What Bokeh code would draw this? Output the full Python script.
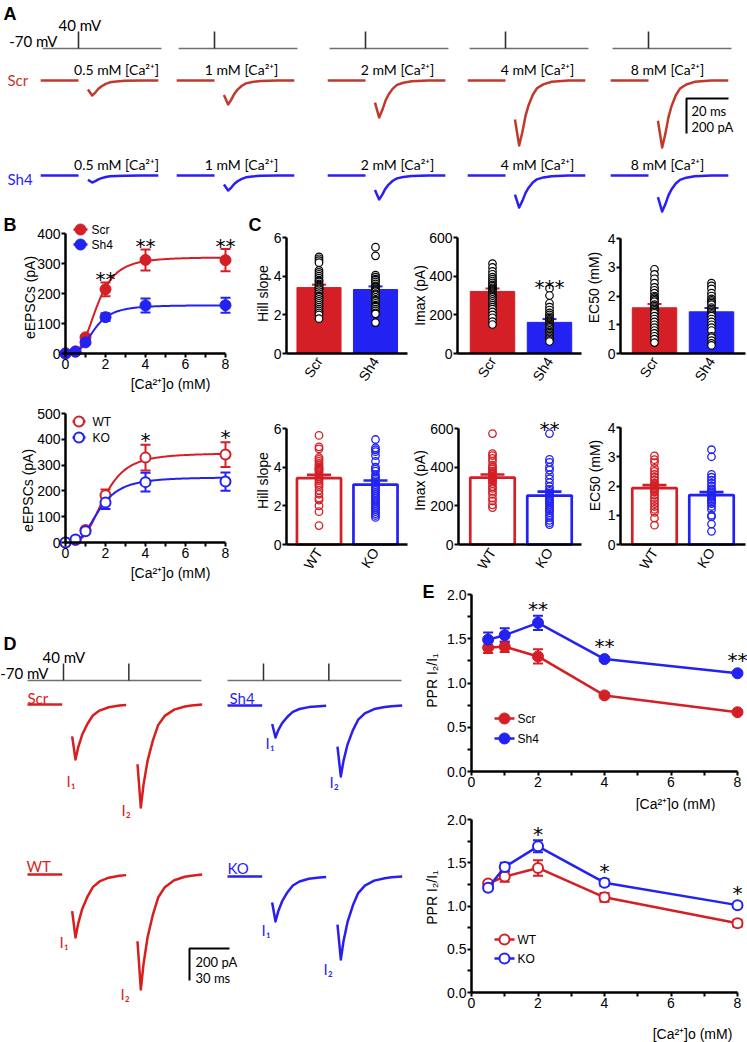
import math
import numpy as np
from bokeh.plotting import figure
from bokeh.layouts import row, column
from bokeh.models import (Range1d, Whisker, TeeHead, ColumnDataSource, Label,
                          FixedTicker, NumeralTickFormatter)
from bokeh.embed import file_html
from bokeh.resources import INLINE

# ======================= DATA =======================
# Panel A : example eEPSCs at each [Ca2+]o
A_CONC_LABELS = ["0.5 mM [Ca²⁺]", "1 mM [Ca²⁺]", "2 mM [Ca²⁺]", "4 mM [Ca²⁺]", "8 mM [Ca²⁺]"]
A_SCR_AMP = [86, 137, 211, 371, 383]          # pA
A_SH4_AMP = [40, 86, 137, 183, 206]           # pA
A_T = [4.5, 6.5, 8.0, 9.5, 11.0, 13.0, 15.0, 18.0, 22.0, 30.0, 38.0]   # ms after stimulus
A_SHAPE = [0.6, 1.0, 0.8, 0.55, 0.38, 0.22, 0.12, 0.06, 0.02, 0.0, 0.0]

# Panel B : dose response
CONC = [0, 0.5, 1, 2, 4, 8]
SCR_EPSC = [0, 7, 54, 214, 312, 311]
SCR_EPSC_SEM = [0, 3, 6, 23, 35, 37]
SH4_EPSC = [0, 6, 37, 121, 160, 161]
SH4_EPSC_SEM = [0, 2, 5, 13, 23, 25]
WT_EPSC = [0, 10, 48, 183, 329, 341]
WT_EPSC_SEM = [0, 3, 6, 22, 50, 48]
KO_EPSC = [0, 12, 44, 155, 234, 236]
KO_EPSC_SEM = [0, 3, 6, 25, 36, 35]
B_TOP_STARS = [(2, "**"), (4, "**"), (8, "**")]
B_BOT_STARS = [(4, "*"), (8, "*")]

# Panel C : Hill fit parameters
GROUPS_TOP = ["Scr", "Sh4"]
GROUPS_BOT = ["WT", "KO"]
HILL_TOP = [3.41, 3.31]
HILL_TOP_SEM = [0.15, 0.16]
IMAX_TOP = [321, 161]
IMAX_TOP_SEM = [15, 17]
EC50_TOP = [1.59, 1.45]
EC50_TOP_SEM = [0.13, 0.13]
HILL_BOT = [3.43, 3.10]
HILL_BOT_SEM = [0.17, 0.21]
IMAX_BOT = [346, 253]
IMAX_BOT_SEM = [16, 21]
EC50_BOT = [1.93, 1.69]
EC50_BOT_SEM = [0.10, 0.10]

HILL_TOP_PTS = [
    [5.0, 4.9, 4.8, 4.7, 4.3, 4.2, 4.1, 4.0, 3.9, 3.8, 3.75, 3.7, 3.6, 3.55, 3.5, 3.45, 3.4,
     3.35, 3.3, 3.2, 3.1, 3.0, 2.95, 2.9, 2.8, 2.7, 2.6, 2.5, 2.4, 2.3, 2.2, 2.1, 2.0, 1.8],
    [5.5, 5.05, 4.05, 3.95, 3.85, 3.8, 3.7, 3.6, 3.5, 3.45, 3.4, 3.35, 3.3, 3.25, 3.2, 3.1,
     3.05, 3.0, 2.9, 2.8, 2.75, 2.7, 2.6, 2.5, 2.45, 2.4, 2.3, 2.2, 2.1, 2.05, 1.6]]
IMAX_TOP_PTS = [
    [465, 445, 425, 410, 395, 385, 375, 365, 355, 348, 340, 335, 330, 325, 320, 315, 310,
     305, 300, 295, 290, 280, 270, 260, 250, 240, 230, 215, 200, 185, 165, 150],
    [336, 300, 260, 240, 225, 210, 200, 190, 183, 176, 170, 165, 160, 155, 150, 145, 140,
     135, 128, 120, 112, 105, 98, 90, 82, 75, 68, 62]]
EC50_TOP_PTS = [
    [2.93, 2.75, 2.6, 2.45, 2.3, 2.2, 2.1, 2.0, 1.95, 1.9, 1.85, 1.8, 1.7, 1.65, 1.6, 1.55,
     1.5, 1.45, 1.4, 1.3, 1.2, 1.1, 1.0, 0.9, 0.8, 0.7, 0.6, 0.5, 0.38],
    [2.45, 2.35, 2.25, 2.1, 2.0, 1.9, 1.85, 1.8, 1.75, 1.7, 1.6, 1.55, 1.5, 1.45, 1.4, 1.35,
     1.3, 1.2, 1.1, 1.0, 0.9, 0.8, 0.6, 0.55, 0.45, 0.35, 0.28]]
HILL_BOT_PTS = [
    [5.64, 5.05, 4.95, 4.5, 4.4, 4.3, 4.2, 4.1, 4.0, 3.95, 3.9, 3.85, 3.8, 3.7, 3.6, 3.5,
     3.4, 3.3, 3.2, 3.1, 3.0, 2.8, 2.6, 2.4, 2.3, 2.0, 1.7, 0.98],
    [5.43, 5.0, 4.9, 4.8, 4.6, 4.3, 4.0, 3.9, 3.8, 3.6, 3.5, 3.4, 3.3, 3.2, 3.1, 3.0, 2.9,
     2.8, 2.7, 2.6, 2.5, 2.4, 2.3, 2.2, 2.1, 2.0, 1.9, 1.8, 1.7, 1.6, 1.5, 1.4]]
IMAX_BOT_PTS = [
    [574, 470, 460, 445, 430, 410, 400, 390, 380, 370, 362, 355, 350, 345, 340, 335, 325,
     315, 300, 290, 275, 260, 240, 225, 205, 191],
    [574, 440, 425, 400, 385, 360, 340, 320, 300, 285, 275, 265, 255, 245, 235, 225, 215,
     205, 195, 185, 175, 165, 150, 140, 125, 113, 103]]
EC50_BOT_PTS = [
    [3.03, 2.9, 2.8, 2.6, 2.5, 2.4, 2.3, 2.2, 2.1, 2.05, 2.0, 1.95, 1.9, 1.85, 1.8, 1.7,
     1.6, 1.5, 1.4, 1.3, 1.2, 1.1, 0.9, 0.66],
    [3.24, 3.0, 2.4, 2.3, 2.2, 2.1, 2.0, 1.9, 1.85, 1.8, 1.75, 1.7, 1.65, 1.6, 1.55, 1.5,
     1.45, 1.4, 1.3, 1.2, 1.0, 0.95, 0.7, 0.45]]

# Panel D : paired-pulse traces
D_NAMES = ["Scr", "Sh4", "WT", "KO"]
D_I1 = [344, 200, 394, 281]     # pA
D_I2 = [644, 444, 719, 519]     # pA
D_T = [6.5, 9.0, 11.0, 14.0, 18.0, 22.0, 27.0, 34.0, 42.0, 47.0, 55.0]
D_SHAPE = [0.58, 1.0, 0.78, 0.55, 0.35, 0.2, 0.11, 0.05, 0.02, 0.01, 0.0]
D_ISI = 49      # ms

# Panel E : paired-pulse ratio
PPR_CONC = [0.5, 1, 2, 4, 8]
SCR_PPR = [1.40, 1.41, 1.30, 0.86, 0.67]
SCR_PPR_SEM = [0.06, 0.06, 0.08, 0.02, 0.02]
SH4_PPR = [1.49, 1.54, 1.68, 1.27, 1.11]
SH4_PPR_SEM = [0.08, 0.08, 0.08, 0.02, 0.02]
WT_PPR = [1.26, 1.34, 1.44, 1.10, 0.80]
WT_PPR_SEM = [0.03, 0.06, 0.09, 0.05, 0.04]
KO_PPR = [1.21, 1.45, 1.69, 1.27, 1.01]
KO_PPR_SEM = [0.03, 0.05, 0.07, 0.04, 0.02]
E_TOP_STARS = [(2, "**"), (4, "**"), (8, "**")]
E_BOT_STARS = [(2, "*"), (4, "*"), (8, "*")]

# ======================= STYLE =======================
RED = "#d41f26"
BLUE = "#2222f2"
A_RED = "#c0392b"
A_BLUE = "#2a1ef5"
D_RED = "#d81e1e"
D_BLUE = "#2b1ef0"
GRAY = "#707070"
AXF = "Liberation Sans"
TXF = "Lato"
STARF = "DejaVu Sans"


class Conv:
    """page pixel <-> data units of one figure"""
    def __init__(self, x0px, sx, y0px, sy):
        self.x0px, self.sx, self.y0px, self.sy = x0px, sx, y0px, sy

    def x(self, rx):
        return (rx - self.x0px) / self.sx

    def y(self, ry):
        return (self.y0px - ry) / self.sy

    def ry(self, y):
        return self.y0px - y * self.sy


def mkfig(rect, xmap, ymap, axes=None):
    fx, fy, fw, fh = rect
    c = Conv(xmap[0], xmap[1], ymap[0], ymap[1])
    kw = dict(width=fw, height=fh,
              x_range=Range1d(c.x(fx), c.x(fx + fw)),
              y_range=Range1d(c.y(fy + fh), c.y(fy)),
              output_backend="svg", toolbar_location=None, min_border=0)
    if axes is None:
        kw.update(x_axis_location=None, y_axis_location=None)
    p = figure(**kw)
    p.grid.visible = False
    p.outline_line_color = None
    p.background_fill_color = "white"
    p.border_fill_color = "white"
    if axes is not None:
        xat, yat, xb, yb = axes
        p.xaxis.fixed_location = xat
        p.yaxis.fixed_location = yat
        p.xaxis.bounds = xb
        p.yaxis.bounds = yb
        for a in p.axis:
            a.axis_line_width = 2.5
            a.axis_line_color = "black"
            a.major_tick_line_width = 2
            a.minor_tick_line_width = 2
            a.major_tick_in = 0
            a.major_tick_out = 4
            a.minor_tick_in = 0
            a.minor_tick_out = 4
            a.major_label_text_font = AXF
            a.major_label_text_font_size = "14px"
            a.major_label_standoff = 1
            a.major_label_text_color = "black"
    return p, c


def lab(p, x, y, text, size="14px", font=AXF, color="black", align="center",
        baseline="middle", angle=0.0, style="normal"):
    p.add_layout(Label(x=x, y=y, text=text, text_font=font, text_font_size=size,
                       text_color=color, text_align=align, text_baseline=baseline,
                       angle=angle, text_font_style=style))


def letter(p, c, rx, ry, text):
    lab(p, c.x(rx), c.y(ry), text, size="18px", align="left", style="bold")


def whisk(p, xs, means, sems, color, head=10, width=2, both=True):
    xs2, up, lo = [], [], []
    for x, m, s in zip(xs, means, sems):
        if s > 0:
            xs2.append(x)
            up.append(m + s)
            lo.append(m - s if both else m)
    src = ColumnDataSource(dict(x=xs2, upper=up, lower=lo))
    p.add_layout(Whisker(source=src, base="x", upper="upper", lower="lower",
                         line_color=color, line_width=width,
                         upper_head=TeeHead(size=head, line_color=color, line_width=width),
                         lower_head=TeeHead(size=head, line_color=color, line_width=width) if both else None))


def key_legend(p, c, entries, gx, tx, ys, filled, size="12px"):
    for (name, col), ry in zip(entries, ys):
        p.segment(x0=[c.x(gx[0])], y0=[c.y(ry)], x1=[c.x(gx[1])], y1=[c.y(ry)],
                  line_color=col, line_width=2.5)
        p.scatter([c.x((gx[0] + gx[1]) / 2)], [c.y(ry)], marker="circle", size=11 if filled else 10,
                  fill_color=col if filled else "white", line_color=col,
                  line_width=1 if filled else 2)
        lab(p, c.x(tx), c.y(ry), name, size=size, align="left")


def put_stars(p, c, stars, tops_px, gap, size="20px"):
    for x, txt in stars:
        center = tops_px[x] - gap
        lab(p, x, c.y(center + 5), txt, size=size, font=STARF)


def hill(x, imax, ec50, n):
    x = np.asarray(x, dtype=float)
    return imax * x ** n / (x ** n + ec50 ** n)


# ======================= PANEL A =======================
figA, ca = mkfig((0, 0, 747, 213), (0, 2.1), (80, 0.175))
A_STIM_X = [78, 214, 365, 505, 648]
A_LABEL_DX = [38, 27, 32, 32, 19]
scr_base, sh4_base = ca.y(80), ca.y(175)
v_base, v_top = ca.y(48), ca.y(31)
for i, sx in enumerate(A_STIM_X):
    t0 = ca.x(sx)
    figA.segment(x0=[t0 - 17.1], y0=[v_base], x1=[t0 + 39.5], y1=[v_base], line_color=GRAY, line_width=1.6)
    figA.segment(x0=[t0], y0=[v_base], x1=[t0], y1=[v_top], line_color="#303030", line_width=1.6)
    for amps, base, col, ly in [(A_SCR_AMP, scr_base, A_RED, 69), (A_SH4_AMP, sh4_base, A_BLUE, 164)]:
        figA.line([t0 - 18, t0], [base, base], line_color=col, line_width=2.5)
        figA.line([t0 + t for t in A_T], [base - amps[i] * s for s in A_SHAPE],
                  line_color=col, line_width=2.5, line_join="round")
        lab(figA, ca.x(sx + A_LABEL_DX[i]), ca.y(ly), A_CONC_LABELS[i], size="14px", font=TXF)
letter(figA, ca, 3, 13, "A")
lab(figA, ca.x(58), ca.y(24), "40 mV", size="15px", font=TXF, align="left")
lab(figA, ca.x(57), ca.y(40), "-70 mV", size="15px", font=TXF, align="right")
lab(figA, ca.x(7), ca.y(79), "Scr", size="15px", font=TXF, align="left", color=A_RED)
lab(figA, ca.x(7), ca.y(178), "Sh4", size="15px", font=TXF, align="left", color=A_BLUE)
sbx, sby = ca.x(686), ca.y(98)
figA.line([sbx + 20, sbx, sbx], [sby, sby, sby - 200], line_color="black", line_width=2)
lab(figA, ca.x(691), ca.y(110), "20 ms", size="13px", font=TXF, align="left")
lab(figA, ca.x(691), ca.y(126), "200 pA", size="13px", font=TXF, align="left")

# ======================= PANEL B =======================
fit_x = np.linspace(0, 8, 161)


def panel_b(rect, ymap, ybound, yticks, series, stars, gap, filled, leg, xt, yt):
    p, c = mkfig(rect, (65, 20), ymap, axes=(0, 0, (0, 8), (0, ybound)))
    p.xaxis.ticker = FixedTicker(ticks=[0, 2, 4, 6, 8], minor_ticks=[1, 3, 5, 7])
    p.yaxis.ticker = FixedTicker(ticks=yticks)
    tops = {}
    for name, m, s, fit, col in series:
        p.line(fit_x, hill(fit_x, *fit), line_color=col, line_width=2)
        whisk(p, CONC, m, s, col, head=10, width=2)
        p.scatter(CONC, m, marker="circle", size=11 if filled else 10,
                  fill_color=col if filled else "white", line_color=col,
                  line_width=1 if filled else 2)
        for cc, mm, ss in zip(CONC, m, s):
            t = min(c.ry(mm + ss), c.ry(mm) - 6)
            tops[cc] = min(tops.get(cc, 1e9), t)
    put_stars(p, c, stars, tops, gap)
    gx, tx, ys = leg
    key_legend(p, c, [(sr[0], sr[4]) for sr in series], gx, tx, ys, filled)
    lab(p, c.x(xt[0]), c.y(xt[1]), "[Ca²⁺]o (mM)")
    lab(p, c.x(yt[0]), c.y(yt[1]), "eEPSCs (pA)", angle=math.pi / 2)
    return p, c


b1, cb1 = panel_b((0, 213, 240, 182), (353, 0.3), 400, [0, 100, 200, 300, 400],
                  [("Scr", SCR_EPSC, SCR_EPSC_SEM, (IMAX_TOP[0], EC50_TOP[0], HILL_TOP[0]), RED),
                   ("Sh4", SH4_EPSC, SH4_EPSC_SEM, (IMAX_TOP[1], EC50_TOP[1], HILL_TOP[1]), BLUE)],
                  B_TOP_STARS, 8, True, ((73, 87), 91, (229, 244)), (170, 383), (29, 297))
letter(b1, cb1, 3, 224, "B")

b2, cb2 = panel_b((0, 395, 240, 187), (542, 0.258), 500, [0, 100, 200, 300, 400, 500],
                  [("WT", WT_EPSC, WT_EPSC_SEM, (IMAX_BOT[0], EC50_BOT[0], HILL_BOT[0]), RED),
                   ("KO", KO_EPSC, KO_EPSC_SEM, (IMAX_BOT[1], EC50_BOT[1], HILL_BOT[1]), BLUE)],
                  B_BOT_STARS, 10, False, ((72, 85), 92, (421, 437)), (170, 572), (27, 490))

# ======================= PANEL C =======================
BAR_X = [0.5, 1.5]


def panel_c(rect, xmap, ymap, y_axis_px, x_end_px, ytop, yticks, groups, means, sems, pts,
            open_style, ylabel, ypos, stars=None, gap=8):
    c0 = Conv(xmap[0], xmap[1], ymap[0], ymap[1])
    yat = c0.x(y_axis_px)
    p, c = mkfig(rect, xmap, ymap, axes=(0, yat, (yat, c0.x(x_end_px)), (0, ytop)))
    cols = [RED, BLUE]
    if open_style:
        p.vbar(x=BAR_X, top=means, bottom=0, width=0.78, fill_color="white",
               line_color=cols, line_width=2.7)
    else:
        p.vbar(x=BAR_X, top=means, bottom=0, width=0.78, fill_color=cols, line_color=cols,
               line_width=1)
    for i in range(2):
        if open_style:
            whisk(p, [BAR_X[i]], [means[i]], [sems[i]], cols[i], head=24, width=2.7, both=False)
            p.scatter([BAR_X[i]] * len(pts[i]), pts[i], marker="circle", size=7.5,
                      fill_alpha=0, line_color=cols[i], line_width=1.3)
        else:
            whisk(p, [BAR_X[i]], [means[i]], [sems[i]], cols[i], head=14, width=2, both=False)
            p.scatter([BAR_X[i]] * len(pts[i]), pts[i], marker="circle", size=7.5,
                      fill_color="white", line_color="black", line_width=1.2)
    p.yaxis.ticker = FixedTicker(ticks=yticks)
    p.xaxis.ticker = FixedTicker(ticks=BAR_X)
    p.xaxis.major_label_overrides = {BAR_X[0]: groups[0], BAR_X[1]: groups[1]}
    p.xaxis.major_label_orientation = 1.0
    p.xaxis.major_tick_line_color = None
    p.xaxis.major_label_text_font_size = "14px"
    if stars:
        gi, txt = stars
        put_stars(p, c, [(BAR_X[gi], txt)], {BAR_X[gi]: c.ry(max(pts[gi]))}, gap)
    lab(p, c.x(ypos[0]), c.y(ypos[1]), ylabel, angle=math.pi / 2)
    return p, c


c1h, cc1h = panel_c((240, 213, 170, 182), (290.25, 56.5), (353, 116 / 6), 286, 407, 6, [0, 2, 4, 6],
                    GROUPS_TOP, HILL_TOP, HILL_TOP_SEM, HILL_TOP_PTS, False, "Hill slope", (262, 293))
letter(c1h, cc1h, 248, 224, "C")
c1i, _ = panel_c((410, 213, 175, 182), (463.5, 57), (353, 116 / 600), 457, 581, 600, [0, 200, 400, 600],
                 GROUPS_TOP, IMAX_TOP, IMAX_TOP_SEM, IMAX_TOP_PTS, False, "Imax (pA)", (419, 295),
                 stars=(1, "***"), gap=7)
c1e, _ = panel_c((585, 213, 162, 182), (625.5, 57), (353, 115 / 4), 620, 745, 4, [0, 1, 2, 3, 4],
                 GROUPS_TOP, EC50_TOP, EC50_TOP_SEM, EC50_TOP_PTS, False, "EC50 (mM)", (593, 287))

c2h, _ = panel_c((240, 395, 170, 187), (290.25, 56.5), (544, 116 / 6), 286, 407, 6, [0, 2, 4, 6],
                 GROUPS_BOT, HILL_BOT, HILL_BOT_SEM, HILL_BOT_PTS, True, "Hill slope", (262, 480))
c2i, _ = panel_c((410, 395, 175, 187), (463.5, 57), (544, 116 / 600), 458, 581, 600, [0, 200, 400, 600],
                 GROUPS_BOT, IMAX_BOT, IMAX_BOT_SEM, IMAX_BOT_PTS, True, "Imax (pA)", (419, 480),
                 stars=(1, "**"), gap=10)
c2e, _ = panel_c((585, 395, 162, 187), (625.5, 57), (544, 117 / 4), 620, 745, 4, [0, 1, 2, 3, 4],
                 GROUPS_BOT, EC50_BOT, EC50_BOT_SEM, EC50_BOT_PTS, True, "EC50 (mM)", (594, 475))

# ======================= PANEL D =======================
figD, cd = mkfig((0, 582, 420, 460), (0, 40 / 30), (1042, 32 / 200))
D_STIM_X = [63, 263, 63, 263]
D_BASE_Y = [704, 705, 874, 876]
D_COLS = [D_RED, D_BLUE, D_RED, D_BLUE]
D_NAME_POS = [(27, 697), (229, 697), (26, 865), (227, 867)]
D_I1_POS = [(66, 780), (265, 742), (59, 941), (261, 929)]
D_I2_POS = [(121, 809), (329, 781), (120, 993), (323, 968)]
for i in range(4):
    t0 = cd.x(D_STIM_X[i])
    base = cd.y(D_BASE_Y[i])
    col = D_COLS[i]
    figD.line([t0 - 27, t0 - 1], [base, base], line_color=col, line_width=2.5)
    t1 = [t for t in D_T if t <= 47]
    figD.line([t0 + t for t in t1], [base - D_I1[i] * s for t, s in zip(D_T, D_SHAPE) if t <= 47],
              line_color=col, line_width=2.5, line_join="round")
    figD.line([t0 + D_ISI + t for t in D_T], [base - D_I2[i] * s for s in D_SHAPE],
              line_color=col, line_width=2.5, line_join="round")
    lab(figD, cd.x(D_NAME_POS[i][0]), cd.y(D_NAME_POS[i][1]), D_NAMES[i], size="15px", font=TXF,
        align="left", color=col)
    lab(figD, cd.x(D_I1_POS[i][0]), cd.y(D_I1_POS[i][1]), "I₁", size="15px", font=TXF,
        align="left", color=col)
    lab(figD, cd.x(D_I2_POS[i][0]), cd.y(D_I2_POS[i][1]), "I₂", size="15px", font=TXF,
        align="left", color=col)
dv_base, dv_top = cd.y(680), cd.y(663)
for sx in [63, 263]:
    t0 = cd.x(sx)
    figD.segment(x0=[t0 - 27], y0=[dv_base], x1=[t0 + 103.5], y1=[dv_base], line_color=GRAY, line_width=1.6)
    figD.segment(x0=[t0, t0 + D_ISI], y0=[dv_base, dv_base], x1=[t0, t0 + D_ISI], y1=[dv_top, dv_top],
                 line_color="#303030", line_width=1.5)
letter(figD, cd, 3, 643, "D")
lab(figD, cd.x(42), cd.y(656), "40 mV", size="15px", font=TXF, align="left")
lab(figD, cd.x(48), cd.y(672), "-70 mV", size="15px", font=TXF, align="right")
dsx, dsy = cd.x(189), cd.y(948)
figD.line([dsx + 30, dsx, dsx], [dsy, dsy, dsy - 200], line_color="black", line_width=2)
lab(figD, cd.x(195), cd.y(961), "200 pA", size="13px", font=TXF, align="left")
lab(figD, cd.x(195), cd.y(977), "30 ms", size="13px", font=TXF, align="left")

# ======================= PANEL E =======================


def panel_e(rect, ymap, series, filled, stars, gap, leg, xt, yt):
    p, c = mkfig(rect, (471, 33.25), ymap, axes=(0, 0, (0, 8), (0, 2)))
    p.xaxis.ticker = FixedTicker(ticks=[0, 2, 4, 6, 8], minor_ticks=[1, 3, 5, 7])
    p.yaxis.ticker = FixedTicker(ticks=[0, 0.5, 1.0, 1.5, 2.0], minor_ticks=[0.25, 0.75, 1.25, 1.75])
    p.yaxis.formatter = NumeralTickFormatter(format="0.0")
    tops = {}
    for name, m, s, col in series:
        p.line(PPR_CONC, m, line_color=col, line_width=2.5)
        whisk(p, PPR_CONC, m, s, col, head=10, width=2)
        p.scatter(PPR_CONC, m, marker="circle", size=11 if filled else 10,
                  fill_color=col if filled else "white", line_color=col,
                  line_width=1 if filled else 2)
        for cc, mm, ss in zip(PPR_CONC, m, s):
            t = min(c.ry(mm + ss), c.ry(mm) - 6)
            tops[cc] = min(tops.get(cc, 1e9), t)
    put_stars(p, c, stars, tops, gap)
    gx, tx, ys = leg
    key_legend(p, c, [(sr[0], sr[3]) for sr in series], gx, tx, ys, filled)
    lab(p, c.x(xt[0]), c.y(xt[1]), "[Ca²⁺]o (mM)")
    lab(p, c.x(yt[0]), c.y(yt[1]), "PPR I₂/I₁", angle=math.pi / 2)
    return p, c


e1, ce1 = panel_e((420, 582, 327, 229), (771, 88.5),
                  [("Scr", SCR_PPR, SCR_PPR_SEM, RED), ("Sh4", SH4_PPR, SH4_PPR_SEM, BLUE)],
                  True, E_TOP_STARS, 12, ((494, 514), 517, (718, 738)), (675, 803), (431, 680))
letter(e1, ce1, 422, 591, "E")
e2, ce2 = panel_e((420, 811, 327, 231), (992, 86.5),
                  [("WT", WT_PPR, WT_PPR_SEM, RED), ("KO", KO_PPR, KO_PPR_SEM, BLUE)],
                  False, E_BOT_STARS, 11, ((494, 514), 517, (939, 958)), (692, 1033), (431, 897))

# ======================= LAYOUT =======================
layout = column(
    figA,
    row(b1, c1h, c1i, c1e),
    row(b2, c2h, c2i, c2e),
    row(figD, column(e1, e2)),
)

open("out.html", "w").write(file_html(layout, INLINE, title="Figure"))
